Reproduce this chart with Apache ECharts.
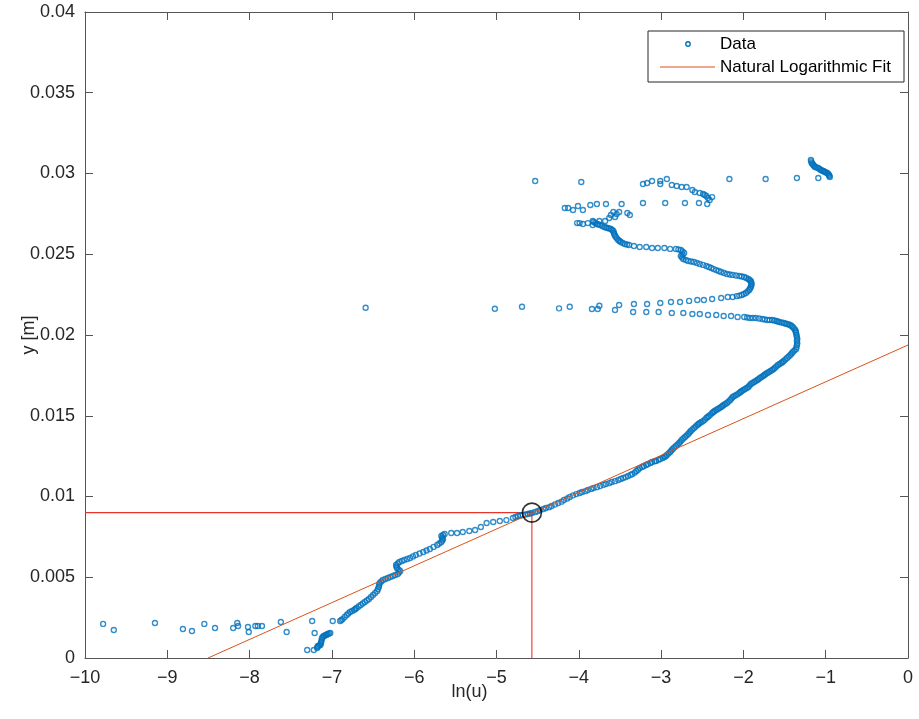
<!DOCTYPE html>
<html>
<head>
<meta charset="utf-8">
<script src="https://cdn.jsdelivr.net/npm/echarts@6/dist/echarts.min.js"></script>
<style>html,body{margin:0;padding:0;background:#fff;}#c{width:919px;height:719px;}</style>
</head>
<body>
<div id="c"></div>
<script>
// ---- data: [ln(u), y] ----
const lowScatter = [[-9.78,0.00211],[-9.65,0.00173],[-9.15,0.00217],[-8.81,0.00180],[-8.70,0.00167],[-8.55,0.00211],[-8.42,0.00186],[-8.20,0.00186],[-8.15,0.00217],[-8.14,0.00198],[-8.02,0.00192],[-8.01,0.00161],[-7.93,0.00198],[-7.90,0.00198],[-7.85,0.00198],[-7.62,0.00223],[-7.55,0.00161],[-7.24,0.00229],[-7.21,0.00155],[-6.99,0.00229],[-7.30,0.00050],[-7.22,0.00050]];
const lowCluster = [[-7.18,0.00062],[-7.175,0.00068],[-7.17,0.00074],[-7.155,0.00077],[-7.14,0.00080],[-7.135,0.00090],[-7.13,0.00099],[-7.125,0.00112],[-7.12,0.00124],[-7.11,0.00130],[-7.10,0.00136],[-7.085,0.00139],[-7.07,0.00142],[-7.06,0.00146],[-7.05,0.00149],[-7.035,0.00152],[-7.02,0.00155]];
const mainLower = [[-6.90,0.00229],[-6.87,0.00241],[-6.82,0.00266],[-6.78,0.00285],[-6.73,0.00297],[-6.70,0.00310],[-6.65,0.00328],[-6.60,0.00347],[-6.55,0.00365],[-6.50,0.00390],[-6.45,0.00415],[-6.43,0.00440],[-6.42,0.00464],[-6.38,0.00483],[-6.32,0.00495],[-6.26,0.00508],[-6.20,0.00520],[-6.17,0.00539],[-6.21,0.00557],[-6.22,0.00576],[-6.18,0.00594],[-6.12,0.00607],[-6.05,0.00619],[-5.98,0.00638],[-5.89,0.00656],[-5.81,0.00675],[-5.72,0.00700],[-5.67,0.00718],[-5.65,0.00737],[-5.67,0.00755],[-5.63,0.00768],[-5.55,0.00774],[-5.48,0.00774],[-5.41,0.00780],[-5.33,0.00786],[-5.26,0.00793],[-5.19,0.00811],[-5.12,0.00836],[-5.04,0.00842],[-4.96,0.00848],[-4.88,0.00854],[-4.80,0.00867],[-4.74,0.00879],[-4.68,0.00885],[-4.62,0.00892],[-4.57,0.00898]];
const mainLowerB = [[-6.885,0.00235],[-6.845,0.00254],[-6.80,0.00276],[-6.755,0.00291],[-6.715,0.00304],[-6.675,0.00319],[-6.625,0.00338],[-6.575,0.00356],[-6.525,0.00378],[-6.475,0.00403],[-6.44,0.00428],[-6.425,0.00452],[-6.40,0.00474],[-6.35,0.00489],[-6.29,0.00502],[-6.23,0.00514],[-6.185,0.00530],[-6.19,0.00548],[-6.215,0.00567],[-6.20,0.00585],[-6.15,0.00601],[-6.085,0.00613],[-6.015,0.00629],[-5.935,0.00647],[-5.85,0.00666],[-5.765,0.00688],[-5.695,0.00709],[-5.66,0.00727],[-5.66,0.00746],[-5.65,0.00762],[-4.77,0.00873],[-4.71,0.00882],[-4.65,0.00889],[-4.595,0.00895]];
const mainUpper = [[-4.53,0.00904],[-4.47,0.00916],[-4.40,0.00929],[-4.33,0.00941],[-4.25,0.00960],[-4.18,0.00978],[-4.11,0.00997],[-4.03,0.01015],[-3.96,0.01028],[-3.89,0.01040],[-3.82,0.01053],[-3.74,0.01065],[-3.67,0.01077],[-3.60,0.01090],[-3.52,0.01102],[-3.46,0.01115],[-3.40,0.01127],[-3.35,0.01139],[-3.30,0.01158],[-3.26,0.01176],[-3.21,0.01189],[-3.16,0.01201],[-3.11,0.01214],[-3.06,0.01220],[-3.01,0.01232],[-2.96,0.01245],[-2.93,0.01257],[-2.89,0.01276],[-2.86,0.01294],[-2.82,0.01313],[-2.78,0.01331],[-2.75,0.01350],[-2.71,0.01368],[-2.67,0.01387],[-2.64,0.01406],[-2.60,0.01424],[-2.56,0.01443],[-2.53,0.01455],[-2.49,0.01467],[-2.45,0.01486],[-2.42,0.01498],[-2.38,0.01517],[-2.35,0.01529],[-2.31,0.01542],[-2.27,0.01554],[-2.24,0.01567],[-2.20,0.01579],[-2.16,0.01598],[-2.13,0.01616],[-2.09,0.01628],[-2.05,0.01641],[-2.02,0.01653],[-1.98,0.01666],[-1.94,0.01678],[-1.91,0.01697],[-1.87,0.01709],[-1.83,0.01721],[-1.80,0.01734],[-1.76,0.01746],[-1.73,0.01759],[-1.69,0.01771],[-1.65,0.01783],[-1.62,0.01796],[-1.58,0.01814],[-1.54,0.01827],[-1.51,0.01839],[-1.47,0.01858],[-1.43,0.01876],[-1.40,0.01895],[-1.36,0.01913],[-1.35,0.01938],[-1.35,0.01963],[-1.35,0.01988],[-1.36,0.02012],[-1.37,0.02031],[-1.40,0.02050],[-1.43,0.02062],[-1.47,0.02068],[-1.51,0.02074],[-1.56,0.02080],[-1.60,0.02087],[-1.65,0.02093],[-1.71,0.02093],[-1.77,0.02099],[-1.85,0.02105],[-1.92,0.02105],[-1.99,0.02111],[-2.07,0.02111],[-2.15,0.02118],[-2.24,0.02118],[-2.33,0.02124],[-2.43,0.02124],[-2.53,0.02130],[-2.62,0.02130],[-2.73,0.02136],[-2.87,0.02136],[-3.03,0.02142],[-3.18,0.02142],[-3.34,0.02142],[-3.56,0.02155],[-3.77,0.02161],[-3.84,0.02161]];
const mainUpperB = [[-4.50,0.00909],[-4.43,0.00923],[-4.36,0.00934],[-4.29,0.00951],[-4.21,0.00968],[-4.14,0.00988],[-4.07,0.01007],[-3.99,0.01022],[-3.92,0.01033],[-3.85,0.01047],[-3.78,0.01058],[-3.70,0.01072],[-3.63,0.01083],[-3.56,0.01095],[-3.49,0.01109],[-3.43,0.01120],[-3.37,0.01134],[-3.32,0.01148],[-3.28,0.01166],[-3.23,0.01183],[-3.18,0.01195],[-3.13,0.01207],[-3.08,0.01218],[-3.03,0.01227],[-2.98,0.01239],[-2.945,0.01250],[-2.91,0.01266],[-2.875,0.01285],[-2.84,0.01303],[-2.80,0.01322],[-2.765,0.01340],[-2.73,0.01359],[-2.69,0.01378],[-2.655,0.01396],[-2.62,0.01415],[-2.58,0.01433],[-2.545,0.01449],[-2.51,0.01461],[-2.47,0.01476],[-2.435,0.01492],[-2.40,0.01507],[-2.365,0.01523],[-2.33,0.01536],[-2.29,0.01548],[-2.255,0.01561],[-2.22,0.01573],[-2.18,0.01588],[-2.145,0.01607],[-2.11,0.01622],[-2.07,0.01634],[-2.035,0.01647],[-2.00,0.01660],[-1.96,0.01672],[-1.925,0.01687],[-1.89,0.01703],[-1.85,0.01715],[-1.815,0.01727],[-1.78,0.01740],[-1.745,0.01752],[-1.71,0.01765],[-1.67,0.01777],[-1.635,0.01789],[-1.60,0.01805],[-1.56,0.01820],[-1.525,0.01833],[-1.49,0.01848],[-1.45,0.01867],[-1.415,0.01885],[-1.38,0.01904],[-1.355,0.01925],[-1.345,0.01950],[-1.345,0.01975],[-1.355,0.02000],[-1.365,0.02022],[-1.385,0.02041],[-1.415,0.02056],[-1.45,0.02065],[-1.49,0.02071],[-1.535,0.02077],[-1.58,0.02084],[-1.625,0.02090],[-1.68,0.02093],[-1.74,0.02096],[-1.81,0.02102],[-1.885,0.02105],[-1.955,0.02108]];
const upperBranch = [[-6.59,0.02169],[-5.02,0.02163],[-4.69,0.02175],[-4.24,0.02165],[-4.11,0.02175],[-3.75,0.02181],[-3.51,0.02186],[-3.33,0.02192],[-3.17,0.02192],[-3.01,0.02198],[-2.88,0.02204],[-2.77,0.02204],[-2.66,0.02211],[-2.56,0.02217],[-2.48,0.02217],[-2.38,0.02223],[-2.27,0.02229],[-2.19,0.02235],[-2.13,0.02235],[-2.08,0.02241],[-2.02,0.02248],[-1.97,0.02260],[-1.93,0.02279],[-1.91,0.02297],[-1.90,0.02316],[-1.91,0.02334],[-1.94,0.02347],[-1.99,0.02359],[-2.05,0.02365],[-2.13,0.02372],[-2.20,0.02378],[-2.27,0.02390],[-2.33,0.02402],[-2.39,0.02415],[-2.45,0.02427],[-2.53,0.02440],[-2.60,0.02452],[-2.67,0.02458],[-2.73,0.02471],[-2.76,0.02489],[-2.72,0.02508],[-2.76,0.02526],[-2.82,0.02533],[-2.89,0.02533],[-2.96,0.02539],[-3.04,0.02539],[-3.11,0.02539],[-3.18,0.02545],[-3.26,0.02545],[-3.33,0.02551],[-3.39,0.02557],[-3.44,0.02563],[-3.49,0.02576],[-3.52,0.02588],[-3.55,0.02607],[-3.57,0.02625],[-3.58,0.02644],[-3.61,0.02656],[-3.65,0.02663],[-3.69,0.02669],[-3.74,0.02681],[-3.78,0.02687],[-3.82,0.02700]];
const upperBranchB = [[-2.05,0.02244],[-1.995,0.02254],[-1.95,0.02270],[-1.92,0.02288],[-1.905,0.02306],[-1.905,0.02325],[-1.925,0.02341],[-1.965,0.02353],[-2.02,0.02362],[-2.09,0.02368],[-2.165,0.02375],[-2.235,0.02384],[-2.30,0.02396],[-2.36,0.02408],[-2.42,0.02421],[-2.49,0.02434],[-2.565,0.02446],[-2.635,0.02455],[-2.70,0.02464],[-2.745,0.02480],[-2.74,0.02498],[-2.74,0.02517],[-2.79,0.02530],[-3.415,0.02560],[-3.465,0.02570],[-3.505,0.02582],[-3.535,0.02597],[-3.56,0.02616],[-3.575,0.02634],[-3.595,0.02650],[-3.63,0.02660],[-3.67,0.02666],[-3.715,0.02675],[-3.76,0.02684],[-3.80,0.02694]];
const topScatter = [[-4.02,0.02693],[-3.99,0.02693],[-3.95,0.02687],[-3.89,0.02693],[-3.83,0.02706],[-3.83,0.02681],[-3.75,0.02706],[-3.68,0.02706],[-4.17,0.02786],[-4.13,0.02786],[-4.07,0.02774],[-4.01,0.02799],[-3.95,0.02774],[-3.86,0.02805],[-3.78,0.02811],[-3.67,0.02811],[-3.58,0.02762],[-3.56,0.02731],[-3.51,0.02762],[-3.48,0.02811],[-3.41,0.02755],[-3.38,0.02743],[-3.61,0.02743],[-3.63,0.02724],[-3.54,0.02749],[-3.22,0.02817],[-2.95,0.02817],[-2.71,0.02817],[-2.54,0.02817],[-2.44,0.02811],[-2.43,0.02848],[-2.38,0.02854],[-2.41,0.02836],[-2.45,0.02861],[-3.22,0.02935],[-3.17,0.02941],[-3.11,0.02954],[-3.01,0.02954],[-3.01,0.02935],[-2.93,0.02966],[-2.87,0.02929],[-2.81,0.02923],[-2.75,0.02916],[-2.69,0.02916],[-2.62,0.02898],[-2.59,0.02885],[-2.53,0.02879],[-2.49,0.02873],[-2.47,0.02867],[-4.53,0.02954],[-3.97,0.02947],[-2.17,0.02966],[-1.73,0.02966],[-1.35,0.02972],[-1.09,0.02972]];
const topRight = [[-1.18,0.03084],[-1.175,0.03075],[-1.17,0.03065],[-1.16,0.03059],[-1.15,0.03053],[-1.14,0.03046],[-1.13,0.03040],[-1.11,0.03037],[-1.09,0.03034],[-1.075,0.03028],[-1.06,0.03022],[-1.045,0.03019],[-1.03,0.03016],[-1.02,0.03012],[-1.01,0.03009],[-0.995,0.03006],[-0.98,0.03003],[-0.97,0.02997],[-0.96,0.02991],[-0.955,0.02985],[-0.95,0.02978]];
const fitLine = [[-8.505,0],[0,0.01938]];
const markPoint = [-4.57, 0.009];
const xTicks = [-10,-9,-8,-7,-6,-5,-4,-3,-2,-1,0];
const yTicks = [0,0.005,0.01,0.015,0.02,0.025,0.03,0.035,0.04];

const allData = [].concat(lowScatter, lowCluster, mainLower, mainLowerB, mainUpper, mainUpperB, upperBranch, upperBranchB, topScatter, topRight);
const blue = '#0072BD', orange = '#D95319';
const font = '"Liberation Sans", Arial, sans-serif';
const textCol = '#262626';
const lineCol = '#555555';

const chart = echarts.init(document.getElementById('c'), null, {renderer: 'canvas'});
const baseAxis = {
  axisLine: {show: true, onZero: false, lineStyle: {color: lineCol, width: 1}},
  axisTick: {show: true, inside: true, length: 8, lineStyle: {color: lineCol}},
  splitLine: {show: false},
  nameMoveOverlap: false
};
chart.setOption({
  animation: false,
  grid: {left: 85, right: 11, top: 12, bottom: 61, containLabel: false, outerBoundsMode: 'none'},
  xAxis: [
    Object.assign({}, baseAxis, {type: 'value', min: -10, max: 0, interval: 1, position: 'bottom',
      name: 'ln(u)', nameLocation: 'middle', nameGap: 25,
      nameTextStyle: {fontFamily: font, fontSize: 18, color: textCol, padding: [0, 54, 0, 0]},
      axisLabel: {fontFamily: font, fontSize: 18, color: textCol, margin: 11,
        formatter: v => xTicks.includes(v) ? String(v).replace('-', '\u2212') : ''}}),
    Object.assign({}, baseAxis, {type: 'value', min: -10, max: 0, interval: 1, position: 'top',
      axisLabel: {show: false}})
  ],
  yAxis: [
    Object.assign({}, baseAxis, {type: 'value', min: 0, max: 0.04, interval: 0.005, position: 'left',
      name: 'y [m]', nameLocation: 'middle', nameGap: 47, nameRotate: 90,
      nameTextStyle: {fontFamily: font, fontSize: 18, color: textCol},
      axisLabel: {fontFamily: font, fontSize: 18, color: textCol, margin: 10,
        formatter: v => { const t = yTicks.find(k => Math.abs(k - v) < 1e-9); return t === undefined ? '' : String(parseFloat(t.toFixed(3))); }}}),
    Object.assign({}, baseAxis, {type: 'value', min: 0, max: 0.04, interval: 0.005, position: 'right',
      axisLabel: {show: false}})
  ],
  series: [
    {type: 'line', data: [[-10, markPoint[1]], [markPoint[0], markPoint[1]]], symbol: 'none',
      lineStyle: {color: '#E8352A', width: 1.1}, z: 1},
    {type: 'line', data: [[markPoint[0], 0], [markPoint[0], markPoint[1]]], symbol: 'none',
      lineStyle: {color: '#E8352A', width: 1.1}, z: 1},
    {type: 'scatter', name: 'Data', data: allData, symbol: 'circle', symbolSize: 5,
      itemStyle: {color: 'rgba(0,0,0,0)', borderColor: blue, borderWidth: 1.4}, z: 2},
    {type: 'line', name: 'Natural Logarithmic Fit', data: fitLine, symbol: 'none',
      lineStyle: {color: orange, width: 1}, z: 3},
    {type: 'scatter', data: [markPoint], symbol: 'circle', symbolSize: 19,
      itemStyle: {color: 'rgba(0,0,0,0)', borderColor: '#000', borderWidth: 1.6}, z: 4}
  ],
  graphic: [
    {type: 'rect', shape: {x: 648, y: 31, width: 256, height: 51},
      style: {fill: '#fff', stroke: textCol, lineWidth: 1}, z: 100},
    {type: 'circle', shape: {cx: 688, cy: 44, r: 2.2},
      style: {fill: 'none', stroke: blue, lineWidth: 1.4}, z: 101},
    {type: 'line', shape: {x1: 660, y1: 67, x2: 715, y2: 67},
      style: {stroke: orange, lineWidth: 1}, z: 101},
    {type: 'text', x: 720, y: 44, style: {text: 'Data', font: '17px ' + font, fill: '#000', textVerticalAlign: 'middle'}, z: 101},
    {type: 'text', x: 720, y: 67, style: {text: 'Natural Logarithmic Fit', font: '17px ' + font, fill: '#000', textVerticalAlign: 'middle'}, z: 101}
  ]
});
</script>
</body>
</html>
